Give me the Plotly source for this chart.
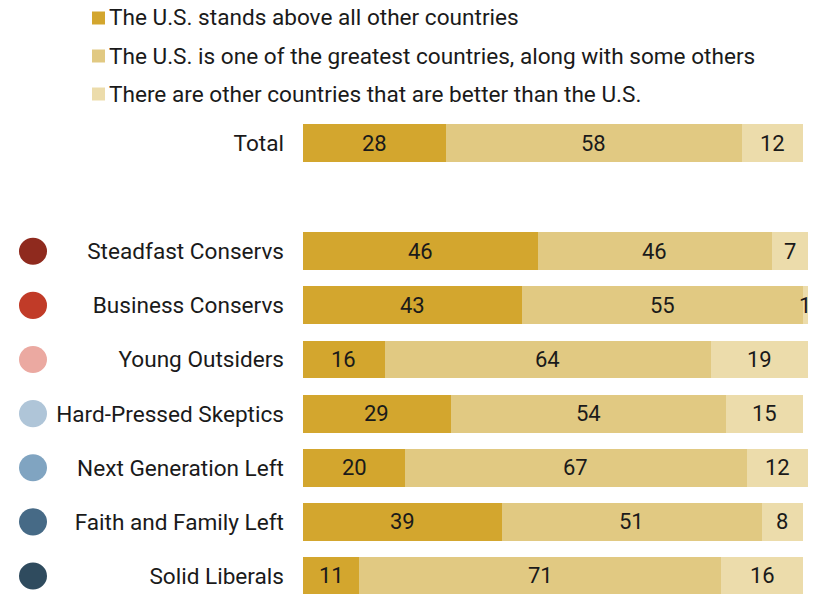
import plotly.graph_objects as go

# Survey responses by political typology group (percent)
groups = ["Total", "Steadfast Conservs", "Business Conservs", "Young Outsiders",
          "Hard-Pressed Skeptics", "Next Generation Left", "Faith and Family Left",
          "Solid Liberals"]
stands_above = [28, 46, 43, 16, 29, 20, 39, 11]
one_of_greatest = [58, 46, 55, 64, 54, 67, 51, 71]
others_better = [12, 7, 1, 19, 15, 12, 8, 16]

series_names = ["The U.S. stands above all other countries",
                "The U.S. is one of the greatest countries, along with some others",
                "There are other countries that are better than the U.S."]
series_colors = ["#D3A62E", "#E1C982", "#ECDCAB"]
dot_colors = [None, "#8F2A1E", "#C13B28", "#EBA9A1", "#AFC5D8", "#80A4C1", "#466A86", "#2F4B5E"]

# Row positions: Total on top, one empty row, then the typology groups
ypos = [8, 6, 5, 4, 3, 2, 1, 0]

FONT = "Roboto"
LABEL_SIZE = 22.6
fig = go.Figure()

series = [stands_above, one_of_greatest, others_better]
for name, vals, col in zip(series_names, series, series_colors):
    fig.add_trace(go.Bar(
        y=ypos, x=vals, name=name, orientation="h",
        marker=dict(color=col, line=dict(width=0)),
        width=0.7, showlegend=False, hoverinfo="x+name",
    ))

# Value labels centred on each segment
for i, y in enumerate(ypos):
    start = 0
    for vals in series:
        v = vals[i]
        fig.add_annotation(x=start + v / 2, y=y, xref="x", yref="y", text=str(v),
                           showarrow=False, font=dict(family=FONT, size=22, color="#1a1a1a"))
        start += v

# Coloured dots next to each typology group
for y, c in zip(ypos, dot_colors):
    if c is None:
        continue
    fig.add_shape(type="circle", xref="paper", yref="y",
                  x0=(19 - 303) / 510, x1=(47 - 303) / 510,
                  y0=y - 0.25, y1=y + 0.25,
                  fillcolor=c, line=dict(width=0))

# Legend drawn as squares with text
legend_y = [18, 56, 94]
for name, col, py in zip(series_names, series_colors, legend_y):
    yp = 1 + (116 - py) / 478
    fig.add_shape(type="rect", xref="paper", yref="paper",
                  x0=(92 - 303) / 510, x1=(105 - 303) / 510,
                  y0=yp - 6.5 / 478, y1=yp + 6.5 / 478,
                  fillcolor=col, line=dict(width=0))
    fig.add_annotation(x=(107 - 303) / 510, y=yp, xref="paper", yref="paper",
                       xanchor="left", yanchor="middle", text=name, showarrow=False,
                       font=dict(family=FONT, size=LABEL_SIZE, color="#1a1a1a"))

fig.update_layout(
    barmode="stack",
    width=817, height=594,
    margin=dict(l=303, r=4, t=116, b=0),
    plot_bgcolor="white", paper_bgcolor="white",
    xaxis=dict(range=[0, 100], visible=False, fixedrange=True),
    yaxis=dict(range=[-0.333, 8.5], tickvals=ypos, ticktext=groups,
               showgrid=False, zeroline=False, showline=False, ticks="",
               ticklabelstandoff=18,
               tickfont=dict(family=FONT, size=LABEL_SIZE, color="#1a1a1a")),
    font=dict(family=FONT),
)

fig.write_html("out.html")
